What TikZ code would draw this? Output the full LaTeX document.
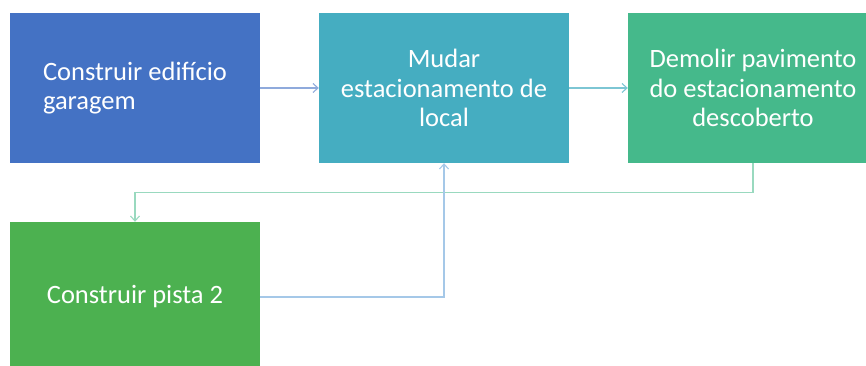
\documentclass[tikz,border=0pt]{standalone}
\usepackage{fontspec}
\setmainfont{Carlito}
\usetikzlibrary{arrows.meta}
\definecolor{azulA}{HTML}{4472C4}
\definecolor{azulB}{HTML}{45ADC1}
\definecolor{azulC}{HTML}{5B9BD5}
\definecolor{verdeA}{HTML}{45B98B}
\definecolor{verdeB}{HTML}{4CB150}
\begin{document}
\begin{tikzpicture}[x=1pt, y=-1pt,
    every node/.style={font=\fontsize{26.5}{29.5}\selectfont, text=white},
    caixa/.style={rectangle, minimum width=250pt, minimum height=150pt, inner sep=0pt, align=center},
    seta/.style={line width=1.1pt, -{Straight Barb[length=5pt,width=9pt]}}]
    \useasboundingbox (0,0) rectangle (866,366);
    \node[caixa, fill=azulA, align=left] (edif) at (135,88) {Construir edifício\\garagem};
    \node[caixa, fill=azulB] (mudar) at (444,88) {Mudar\\estacionamento de\\local};
    \node[caixa, fill=verdeA] (demol) at (753,88) {Demolir pavimento\\do estacionamento\\descoberto};
    \node[caixa, fill=verdeB] (pista) at (135,297) {Construir pista 2};
    \draw[seta, color=azulA!60] (edif) -- (mudar);
    \draw[seta, color=azulB!70] (mudar) -- (demol);
    \draw[seta, color=verdeA!55] (demol.south) -- ++(0,29) -| (pista.north);
    \draw[seta, color=azulC!55] (pista.east) -| (mudar.south);
\end{tikzpicture}
\end{document}
